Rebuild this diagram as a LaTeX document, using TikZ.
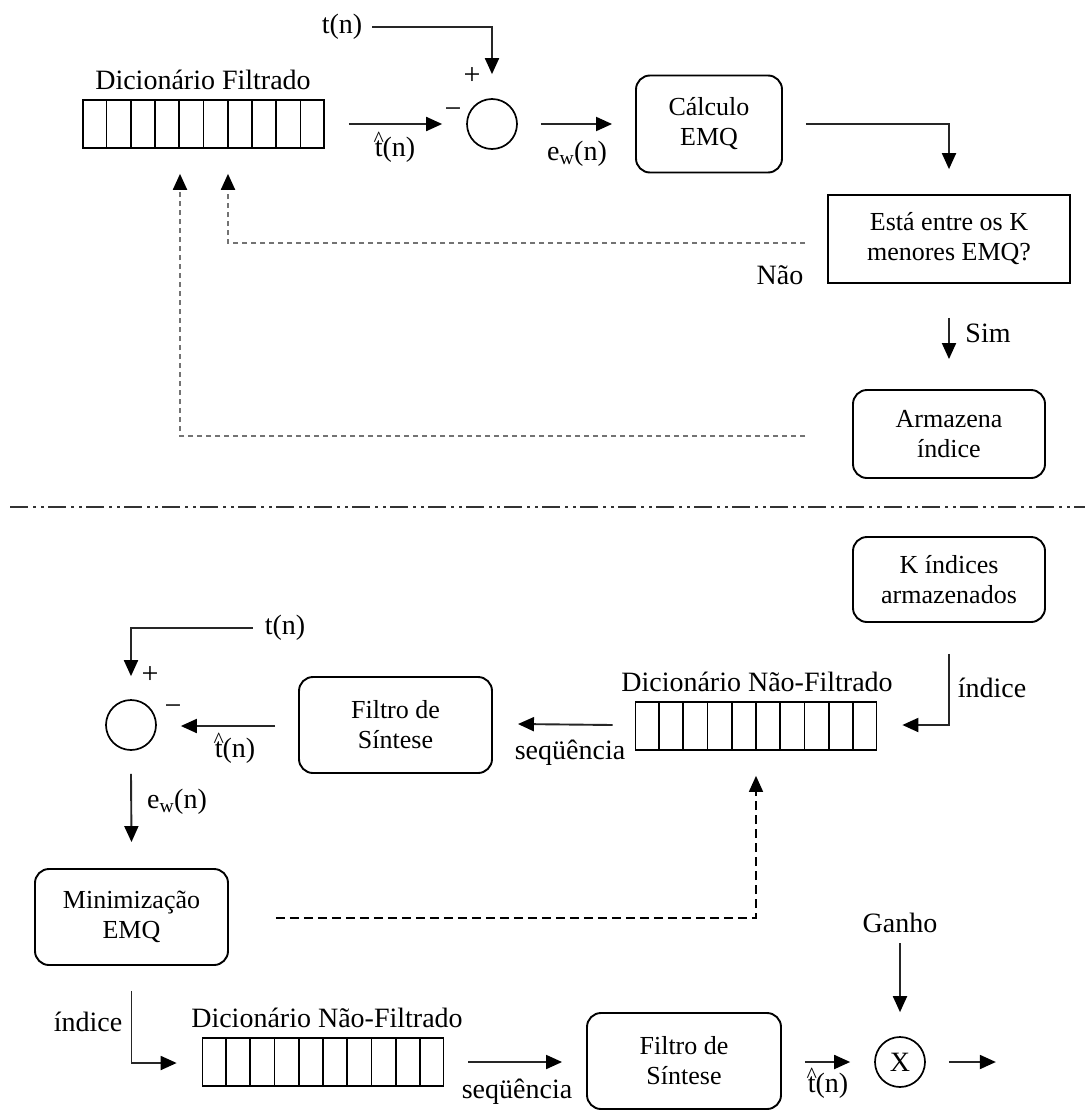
\documentclass[tikz,border=0pt]{standalone}
\usepackage{fontspec}
\setmainfont{Liberation Serif}
\usetikzlibrary{arrows.meta,calc}
\newcommand\lblfont{\fontsize{28pt}{32pt}\selectfont}
\newcommand\boxfont{\fontsize{26pt}{30pt}\selectfont}
\newcommand\that{{\ooalign{t\cr\hidewidth\raisebox{0.36em}{\fontsize{22pt}{22pt}\selectfont\textasciicircum}\hidewidth\cr}}}
\begin{document}
\begin{tikzpicture}[x=1pt,y=-1pt,
  ln/.style={line width=1.9pt, draw=black!85},
  arr/.style={ln, -{Triangle[length=16pt,width=14pt,color=black]}},
  dshA/.style={line width=2pt, draw=black!55, dash pattern=on 5pt off 4pt, -{Triangle[length=16pt,width=14pt,color=black]}},
  dshB/.style={line width=1.6pt, draw=black, dash pattern=on 9pt off 5pt, -{Triangle[length=16pt,width=14pt,color=black]}},
  sep/.style={line width=2.2pt, draw=black!80, dash pattern=on 18pt off 5pt on 3pt off 5pt on 3pt off 4pt},
  rbox/.style={draw, line width=1.9pt, rounded corners=14pt, align=center, font=\boxfont, inner sep=0pt},
  sbox/.style={draw, line width=1.7pt, align=center, font=\boxfont, inner sep=0pt},
  lbl/.style={font=\lblfont, inner sep=0pt},
  sgn/.style={font=\fontsize{30pt}{30pt}\selectfont, inner sep=0pt},
  sumc/.style={circle, draw, line width=1.7pt, minimum size=50pt, inner sep=0pt},
  dict/.style={draw, line width=1.7pt, minimum width=241pt, minimum height=48pt, inner sep=0pt},
  cell/.style={line width=1.7pt},
]
\useasboundingbox (0,0) rectangle (1085,1111);
\fill[white] (0,0) rectangle (1085,1111);

% ---------- top part ----------
\node[lbl] (tn1) at (342,27) {t(n)};
\node[sumc] (s1) at (492,124) {};
\node[sgn] (p1) at (472,76) {+};
\node[sgn] (m1) at (453,113) {−};
\node[dict] (d1) at (203.5,124) {};
\foreach \i in {1,...,9} {\draw[cell] ($(d1.north west)!\i/10!(d1.north east)$) -- ($(d1.south west)!\i/10!(d1.south east)$);}
\node[lbl] (d1t) at (203,80) {Dicionário Filtrado};
\node[lbl] (th1) at (395,150) {\that(n)};
\node[lbl] (ew1) at (577,154) {e\textsubscript{w}(n)};
\node[rbox, minimum width=146pt, minimum height=97pt] (calc) at (709,124) {Cálculo\\EMQ};
\node[sbox, minimum width=242pt, minimum height=88pt] (dec) at (949,239) {Está entre os K\\menores EMQ?};
\node[lbl] (nao) at (780,275) {Não};
\node[lbl] (sim) at (988,333) {Sim};
\node[rbox, minimum width=192pt, minimum height=88pt] (arm) at (949,434) {Armazena\\índice};

\draw[arr] ([xshift=10pt]tn1.east) -| ([yshift=24pt]s1.north);
\draw[arr] ([xshift=24pt]d1.east) -- ([xshift=-24pt]s1.west);
\draw[arr] ([xshift=23pt]s1.east) -- ([xshift=-23pt]calc.west);
\draw[arr] ([xshift=23pt]calc.east) -| ([yshift=25pt]dec.north);
\draw[dshA] ($(dec.west)+(-22,4)$) -| ($(d1.south)+(24.5,25)$);
\draw[dshA] ($(arm.west)+(-47,2)$) -| ($(d1.south)+(-23.5,25)$);
\draw[arr] ($(dec.south)+(0,34)$) -- ($(arm.north)+(0,-30)$);

% ---------- separator ----------
\coordinate (sepL) at (10,507);
\coordinate (sepR) at (1085,507);
\draw[sep] (sepL) -- (sepR);

% ---------- bottom part ----------
\node[rbox, minimum width=192pt, minimum height=85pt] (kidx) at (949,579.5) {K índices\\armazenados};
\node[dict] (d2) at (756,726) {};
\foreach \i in {1,...,9} {\draw[cell] ($(d2.north west)!\i/10!(d2.north east)$) -- ($(d2.south west)!\i/10!(d2.south east)$);}
\node[lbl] (d2t) at (757,682) {Dicionário Não-Filtrado};
\node[lbl] (idx1) at (992,688) {índice};
\node[rbox, minimum width=193pt, minimum height=96pt] (f1) at (395.5,725) {Filtro de\\Síntese};
\node[lbl] (seq1) at (570,753) {seqüência};
\node[sumc] (s2) at (131,725) {};
\node[lbl] (th2) at (235,751) {\that(n)};
\node[sgn] (m2) at (173,710) {−};
\node[sgn] (p2) at (150,675) {+};
\node[lbl] (tn2) at (285,628) {t(n)};
\node[lbl] (ew2) at (177,802) {e\textsubscript{w}(n)};
\node[rbox, minimum width=193pt, minimum height=96pt] (mn) at (131.5,917) {Minimização\\EMQ};
\node[dict] (d3) at (323,1062) {};
\foreach \i in {1,...,9} {\draw[cell] ($(d3.north west)!\i/10!(d3.north east)$) -- ($(d3.south west)!\i/10!(d3.south east)$);}
\node[lbl] (d3t) at (327,1018) {Dicionário Não-Filtrado};
\node[lbl] (idx2) at (88,1022) {índice};
\node[lbl] (seq2) at (517,1092) {seqüência};
\node[rbox, minimum width=194pt, minimum height=96pt] (f2) at (684,1061) {Filtro de\\Síntese};
\node[lbl] (th3) at (828,1086) {\that(n)};
\node[sumc] (x1) at (900,1062) {\lblfont X};
\node[lbl] (gan) at (900,923) {Ganho};
\coordinate (out) at ($(x1.east)+(70,0)$);

\draw[arr] ($(kidx.south)+(0,31)$) |- ($(d2.east)+(25,-1)$);
\draw[arr] ($(d2.west)+(-22,-1)$) -- ($(f1.east)+(25,-1)$);
\draw[arr] ($(f1.west)+(-23,1)$) -- ($(s2.east)+(24,1)$);
\draw[arr] ([xshift=-12pt]tn2.west) -| ([yshift=23pt]s2.north);
\draw[arr] ([yshift=-23pt]s2.south) -- ([yshift=26pt]mn.north);
\draw[dshB] ($(mn.east)+(47,1)$) -| ($(d2.south)+(0,25)$);
\draw[arr] ($(mn.south)+(0,25)$) |- ($(d3.west)+(-25,1)$);
\draw[arr] ($(d3.east)+(24,0)$) -- ($(f2.west)+(-24,1)$);
\draw[arr] ($(f2.east)+(23,1)$) -- ($(x1.west)+(-24,0)$);
\draw[arr] ($(gan.south)+(0,10)$) -- ([yshift=24pt]x1.north);
\draw[arr] ($(x1.east)+(23,0)$) -- (out);
\end{tikzpicture}
\end{document}
